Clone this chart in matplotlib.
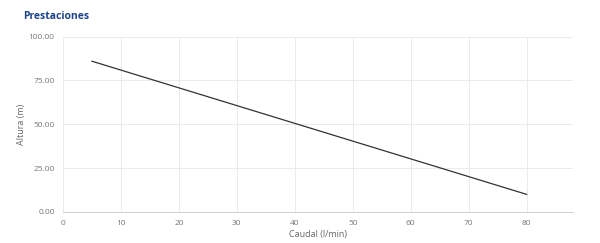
import matplotlib
matplotlib.use("Agg")
import matplotlib.pyplot as plt

# Curva de prestaciones
caudal = [5, 80]       # l/min
altura = [86, 10]      # m

x_ticks = [0, 10, 20, 30, 40, 50, 60, 70, 80]
y_ticks = [0, 25, 50, 75, 100]

plt.rcParams['font.family'] = ['Open Sans', 'DejaVu Sans']

fig = plt.figure(figsize=(6, 2.43), dpi=100)
ax = fig.add_axes([0.105, 0.128, 0.85, 0.721])

ax.plot(caudal, altura, color='#333333', linewidth=0.9)

ax.set_xlim(0, 88)
ax.set_ylim(0, 100)
ax.set_xticks(x_ticks)
ax.set_yticks(y_ticks)
ax.set_yticklabels([f'{v:.2f}' for v in y_ticks])

ax.grid(True, color='#ebebeb', linewidth=0.7)
ax.set_axisbelow(True)
for s in ['top', 'right', 'left']:
    ax.spines[s].set_visible(False)
ax.spines['bottom'].set_color('#d0d0d0')
ax.spines['bottom'].set_linewidth(0.7)
ax.tick_params(length=0, labelsize=6, labelcolor='#777777', pad=6)

ax.set_xlabel('Caudal (l/min)', fontsize=6.5, color='#666666', labelpad=2)
ax.set_ylabel('Altura (m)', fontsize=6.5, color='#666666', labelpad=2)

fig.text(0.038, 0.932, 'Prestaciones', fontsize=7.5, fontweight='bold',
         color='#1d4489', va='center', ha='left')

fig.savefig('out.png', dpi=100, facecolor='white')
